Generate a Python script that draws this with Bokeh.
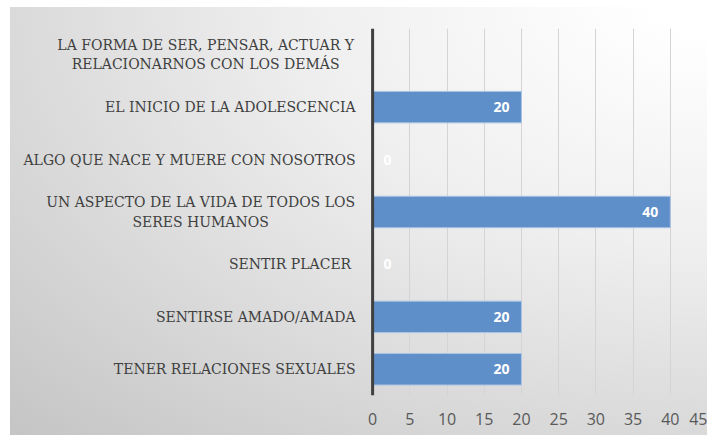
from bokeh.plotting import figure
from bokeh.models import ColumnDataSource, FixedTicker, Span
from bokeh.core.properties import value
from bokeh.embed import file_html
from bokeh.resources import INLINE

categories = [
    "TENER RELACIONES SEXUALES",
    "SENTIRSE AMADO/AMADA",
    "SENTIR PLACER ",
    "UN ASPECTO DE LA VIDA DE TODOS LOS\nSERES HUMANOS",
    "ALGO QUE NACE Y MUERE CON NOSOTROS",
    "EL INICIO DE LA ADOLESCENCIA",
    "LA FORMA DE SER, PENSAR, ACTUAR Y\nRELACIONARNOS CON LOS DEMÁS",
]
values = [20, 20, 0, 40, 0, 20, None]
x_ticks = [0, 5, 10, 15, 20, 25, 30, 35, 40, 45]

bar_cats = [c for c, v in zip(categories, values) if v is not None]
bar_vals = [v for v in values if v is not None]
src = ColumnDataSource(dict(cat=bar_cats, val=bar_vals))
pos_src = ColumnDataSource(dict(cat=[c for c, v in zip(bar_cats, bar_vals) if v > 0],
                                val=[v for v in bar_vals if v > 0],
                                lab=[str(v) for v in bar_vals if v > 0]))
zero_src = ColumnDataSource(dict(cat=[c for c, v in zip(bar_cats, bar_vals) if v == 0],
                                 val=[v for v in bar_vals if v == 0],
                                 lab=[str(v) for v in bar_vals if v == 0]))

css = (":host { background:"
       " linear-gradient(to right, #ffffff 10px, rgba(255,255,255,0) 10px),"
       " linear-gradient(to bottom, #ffffff 7px, rgba(255,255,255,0) 7px),"
       " radial-gradient(farthest-corner at 100% 0%, #ffffff 5%, #efefef 40%, #c4c4c4 100%); }")

# the frame also holds the category labels, left of x = 0
p = figure(width=707, height=435, y_range=categories, x_range=(-50, 45),
           output_backend="svg", toolbar_location=None,
           min_border_left=0, min_border_right=0, min_border_top=28,
           min_border_bottom=40, stylesheets=[css])
p.background_fill_alpha = 0
p.border_fill_alpha = 0
p.outline_line_color = None

p.hbar(y="cat", right="val", left=0, height=0.6, source=src,
       fill_color="#5f8fc9", line_color="#a9c4e4", line_width=1)

p.text(x="val", y="cat", text="lab", source=pos_src, x_offset=-12,
       text_align="right", text_baseline="middle", text_color="white",
       text_font=value("Open Sans"), text_font_style="bold", text_font_size="14px")
p.text(x="val", y="cat", text="lab", source=zero_src, x_offset=11,
       text_align="left", text_baseline="middle", text_color="white",
       text_font=value("Open Sans"), text_font_style="bold", text_font_size="14px")

# category labels (serif)
single = [c for c in categories if "\n" not in c]
multi = [c for c in categories if "\n" in c]
s_src = ColumnDataSource(dict(cat=single, x=[0] * len(single), lab=single))
p.text(x="x", y="cat", text="lab", source=s_src, x_offset=-17,
       text_align="right", text_baseline="middle",
       text_font=value("DejaVu Serif"), text_font_size="14px",
       text_color="#404040")
for c in multi:
    first_line_w = 310 if c.startswith("UN") else 300
    m_src = ColumnDataSource(dict(cat=[c], x=[0], lab=[c]))
    p.text(x="x", y="cat", text="lab", source=m_src,
           x_offset=-17 - first_line_w / 2,
           text_align="center", text_baseline="middle",
           text_font=value("DejaVu Serif"), text_font_size="14px",
           text_color="#404040")

p.xaxis.ticker = FixedTicker(ticks=x_ticks)
p.xaxis.axis_line_color = None
p.xaxis.major_tick_line_color = None
p.xaxis.minor_tick_line_color = None
p.xaxis.major_label_text_color = "#595959"
p.xaxis.major_label_text_font = "Open Sans"
p.xaxis.major_label_text_font_size = "16px"
p.xaxis.major_label_standoff = 11

p.yaxis.visible = False
p.add_layout(Span(location=0, dimension="height", line_color="#404040", line_width=3))

p.xgrid.grid_line_color = "#d4d4d4"
p.xgrid.grid_line_width = 1
p.ygrid.grid_line_color = None

open("out.html", "w").write(file_html(p, INLINE))
